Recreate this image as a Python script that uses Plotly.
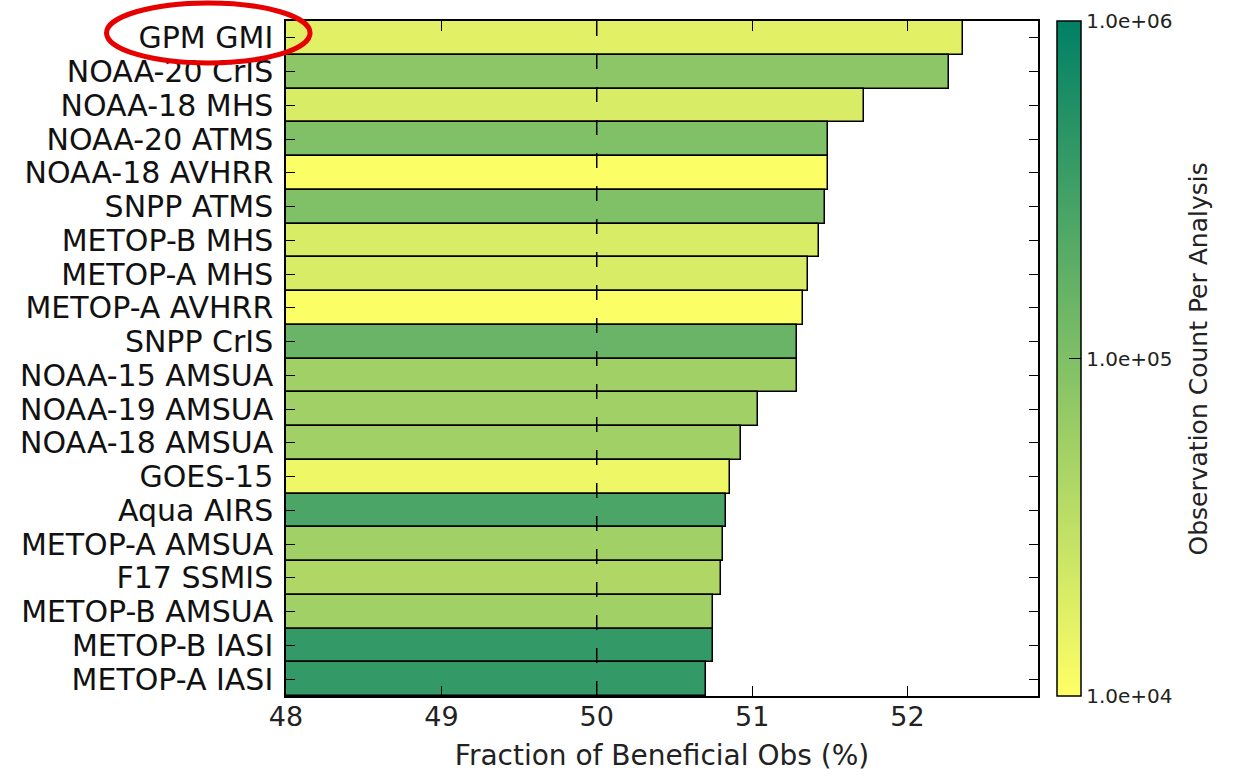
import numpy as np
import plotly.graph_objects as go

# Data (top to bottom as displayed)
instruments = ["GPM GMI", "NOAA-20 CrIS", "NOAA-18 MHS", "NOAA-20 ATMS", "NOAA-18 AVHRR",
               "SNPP ATMS", "METOP-B MHS", "METOP-A MHS", "METOP-A AVHRR", "SNPP CrIS",
               "NOAA-15 AMSUA", "NOAA-19 AMSUA", "NOAA-18 AMSUA", "GOES-15", "Aqua AIRS",
               "METOP-A AMSUA", "F17 SSMIS", "METOP-B AMSUA", "METOP-B IASI", "METOP-A IASI"]
beneficial_pct = [52.36, 52.27, 51.72, 51.49, 51.49,
                  51.47, 51.43, 51.36, 51.33, 51.29,
                  51.29, 51.04, 50.93, 50.86, 50.83,
                  50.81, 50.80, 50.75, 50.75, 50.70]
obs_count = [1.7e4, 8.0e4, 2.0e4, 1.0e5, 1.05e4,
             1.0e5, 2.0e4, 2.0e4, 1.05e4, 1.5e5,
             5.5e4, 5.5e4, 5.5e4, 1.35e4, 2.6e5,
             5.5e4, 4.2e4, 5.5e4, 4.0e5, 4.0e5]
cbar_tickvals = [4, 5, 6]
cbar_ticktext = ["1.0e+04", "1.0e+05", "1.0e+06"]
x_ticks = [48, 49, 50, 51, 52]

summer_r = [[0.0, "rgb(255,255,102)"], [1.0, "rgb(0,128,102)"]]
FONT = "DejaVu Sans"

fig = go.Figure()
fig.add_trace(go.Bar(
    y=instruments,
    x=beneficial_pct,
    orientation="h",
    width=1.0,
    marker=dict(
        color=np.log10(obs_count),
        colorscale=summer_r,
        cmin=4, cmax=6,
        line=dict(color="black", width=1.5),
        colorbar=dict(
            x=1.0253, xanchor="left", xref="paper", xpad=0, ypad=0,
            y=0.5, yanchor="middle", len=1.0, lenmode="fraction",
            thickness=24,
            outlinecolor="black", outlinewidth=1.5,
            tickvals=cbar_tickvals, ticktext=cbar_ticktext,
            ticks="inside", ticklen=12, tickcolor="black", tickwidth=1,
            tickfont=dict(family=FONT, size=20, color="#222"),
        ),
    ),
    showlegend=False,
))

fig.add_shape(type="line", xref="x", yref="paper", x0=50, x1=50, y0=0, y1=1,
              line=dict(color="black", width=1.5, dash="15px,18px"), layer="above")

# red highlight ellipse around the first label
fig.add_shape(type="circle", xref="paper", yref="paper",
              x0=-0.2387, x1=0.032, y0=0.9378, y1=1.0267,
              line=dict(color="#e60000", width=5), layer="above")

fig.add_annotation(text="Observation Count Per Analysis", xref="paper", yref="paper",
                   x=1.236, y=0.5, textangle=-90, showarrow=False,
                   font=dict(family=FONT, size=25, color="#222"))

fig.update_layout(
    width=1238, height=777,
    margin=dict(l=286, r=200, t=21, b=81, autoexpand=False),
    plot_bgcolor="white", paper_bgcolor="white",
    bargap=0,
    xaxis=dict(
        range=[48, 52.84], tickvals=x_ticks, automargin=False,
        ticks="inside", ticklen=10, tickwidth=1, tickcolor="black",
        showline=True, linecolor="black", linewidth=1.5, mirror="ticks",
        showgrid=False, zeroline=False,
        tickfont=dict(family=FONT, size=27, color="#222"),
        ticklabelstandoff=-4,
        title=dict(text="Fraction of Beneficial Obs (%)",
                   font=dict(family=FONT, size=28, color="#222"), standoff=14),
    ),
    yaxis=dict(
        range=[19.5, -0.5], type="category", automargin=False,
        categoryorder="array", categoryarray=instruments,
        tickmode="array", tickvals=instruments, ticktext=instruments,
        ticks="inside", ticklen=9, tickwidth=1, tickcolor="black",
        showline=True, linecolor="black", linewidth=1.5, mirror="ticks",
        showgrid=False, zeroline=False,
        tickfont=dict(family=FONT, size=30, color="#111"),
        ticklabelstandoff=5,
    ),
)

fig.write_html("out.html")
